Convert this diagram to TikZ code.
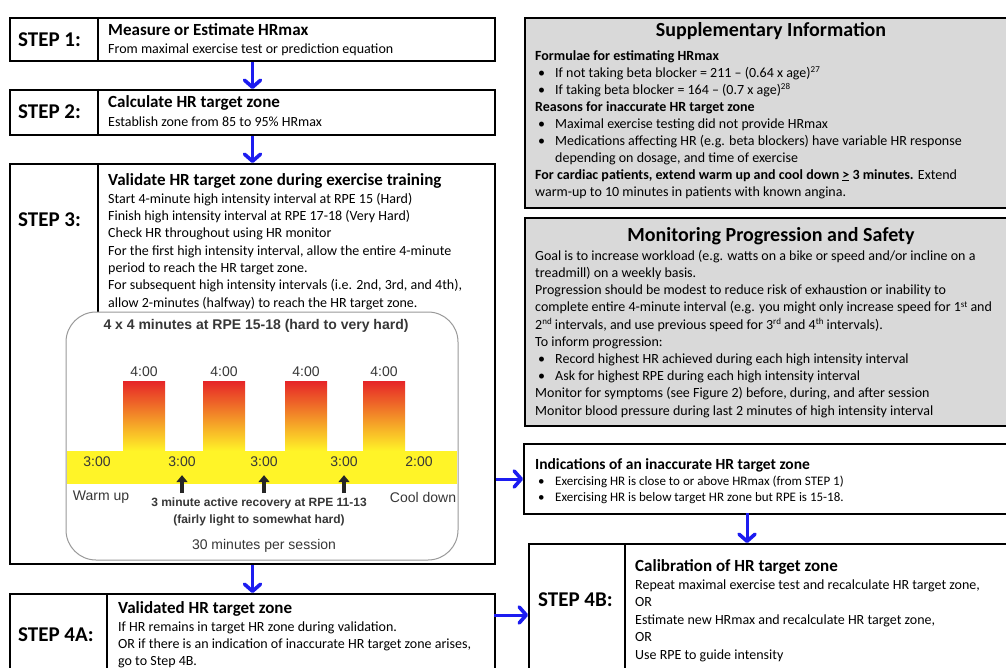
\documentclass[tikz,border=0pt]{standalone}
\usepackage{fontspec}
\setmainfont{Carlito}
\newfontfamily\arialfont{Liberation Sans}
\usetikzlibrary{arrows.meta,positioning,calc,shadows}

\definecolor{flowblue}{RGB}{28,28,240}
\definecolor{infogray}{RGB}{217,217,217}
\definecolor{zoneyellow}{RGB}{255,244,40}
\definecolor{peakred}{RGB}{230,36,40}
\definecolor{peakorange}{RGB}{240,140,30}
\definecolor{charttext}{RGB}{55,55,55}

\newcommand{\linetop}{\rule{0pt}{11pt}}
\newcommand{\infobullet}{\makebox[20pt][l]{\hspace{3pt}\textbullet}}
\newcommand{\infoindent}{\hspace*{20pt}}
\newcommand{\supnum}[1]{\raisebox{4.5pt}{\fontsize{9}{9}\selectfont #1}}

\tikzset{
  stepbox/.style={draw, line width=2pt, anchor=north west, inner sep=0pt, fill=white,
    drop shadow={opacity=0.25, shadow xshift=1.2pt, shadow yshift=-1.2pt}},
  infobox/.style={stepbox, fill=infogray},
  divider/.style={line width=2pt},
  flow/.style={draw=flowblue, line width=3pt, -{Straight Barb[length=7pt,width=16pt,line width=3.6pt,round]}},
  steplabel/.style={anchor=west, inner sep=0pt, font=\fontsize{21}{24}\selectfont\bfseries},
  boxtitle/.style={anchor=base west, inner sep=0pt, font=\fontsize{17}{20}\selectfont\bfseries},
  infotitle/.style={anchor=base, inner sep=0pt, font=\fontsize{20}{24}\selectfont\bfseries},
  boxbody/.style={anchor=north west, inner sep=0pt, align=left, font=\fontsize{14}{17.2}\selectfont},
  chartframe/.style={draw=black!40, line width=1pt, rounded corners=30pt, fill=white},
  chartlabel/.style={inner sep=0pt, text=charttext, font=\arialfont\fontsize{14}{16}\selectfont},
  charttitle/.style={chartlabel, font=\arialfont\fontsize{14}{16}\selectfont\bfseries},
  recarrow/.style={draw=black!85, line width=4pt, -{Triangle[length=7pt,width=11pt]}}
}

\begin{document}
\begin{tikzpicture}[x=1pt,y=-1pt]
\useasboundingbox (0,0) rectangle (1006,668);
\clip (0,0) rectangle (1006,668);

% left column: steps
\node[stepbox, minimum width=485pt, minimum height=43pt] (s1) at (9,17) {};
\node[stepbox, minimum width=485pt, minimum height=45pt] (s2) at (9,89) {};
\node[stepbox, minimum width=485pt, minimum height=400pt] (s3) at (9,163) {};
\node[stepbox, minimum width=485pt, minimum height=100pt] (s4a) at (9,593) {};
\draw[divider] (98,17) -- (98,60);
\draw[divider] (98,89) -- (98,134);
\draw[divider] (98,163) -- (98,312);
\draw[divider] (107,593) -- (107,693);

% right column: information
\node[infobox, minimum width=500pt, minimum height=190pt] (sup) at (524,17) {};
\node[infobox, minimum width=500pt, minimum height=208pt] (mon) at (524,217) {};
\node[stepbox, minimum width=500pt, minimum height=70pt] (ind) at (523,443) {};
\node[stepbox, minimum width=500pt, minimum height=150pt] (s4b) at (528,543) {};
\draw[divider] (625,543) -- (625,693);

% step labels
\node[steplabel] (l1) at (18,40) {STEP 1:};
\node[steplabel] (l2) at (18,112) {STEP 2:};
\node[steplabel] (l3) at (18,220) {STEP 3:};
\node[steplabel] (l4a) at (18,635) {STEP 4A:};
\node[steplabel] (l4b) at (538,600) {STEP 4B:};

% step texts
\node[boxtitle] (t1) at (108,36) {Measure or Estimate HRmax};
\node[boxbody] (b1) at (108,42) {\linetop From maximal exercise test or prediction equation};
\node[boxtitle] (t2) at (108,108) {Calculate HR target zone};
\node[boxbody] (b2) at (108,115) {\linetop Establish zone from 85 to 95\% HRmax};
\node[boxtitle] (t3) at (108,186) {Validate HR target zone during exercise training};
\node[boxbody, font=\fontsize{14}{17.3}\selectfont] (b3) at (108,192) {\linetop Start 4-minute high intensity interval at RPE 15 (Hard)\\
  Finish high intensity interval at RPE 17-18 (Very Hard)\\
  Check HR throughout using HR monitor\\
  For the first high intensity interval, allow the entire 4-minute\\
  period to reach the HR target zone.\\
  For subsequent high intensity intervals (i.e. 2nd, 3rd, and 4th),\\
  allow 2-minutes (halfway) to reach the HR target zone.};
\node[boxtitle] (t4a) at (118,613) {Validated HR target zone};
\node[boxbody, font=\fontsize{14}{17}\selectfont] (b4a) at (118,620) {\linetop If HR remains in target HR zone during validation.\\
  OR if there is an indication of inaccurate HR target zone arises,\\
  go to Step 4B.};
\node[boxtitle] (t4b) at (635,571) {Calibration of HR target zone};
\node[boxbody, font=\fontsize{14}{17.5}\selectfont] (b4b) at (635,578) {\linetop Repeat maximal exercise test and recalculate HR target zone,\\
  OR\\
  Estimate new HRmax and recalculate HR target zone,\\
  OR\\
  Use RPE to guide intensity};

% information texts
\node[infotitle] (tsup) at (771,37) {Supplementary Information};
\node[boxbody, font=\fontsize{14}{17}\selectfont] (bsup) at (535,49) {\linetop\textbf{Formulae for estimating HRmax}\\
  \infobullet If not taking beta blocker = 211 – (0.64 x age)\supnum{27}\\
  \infobullet If taking beta blocker = 164 – (0.7 x age)\supnum{28}\\
  \textbf{Reasons for inaccurate HR target zone}\\
  \infobullet Maximal exercise testing did not provide HRmax\\
  \infobullet Medications affecting HR (e.g. beta blockers) have variable HR response\\
  \infoindent depending on dosage, and time of exercise\\
  \textbf{For cardiac patients, extend warm up and cool down \underline{>} 3 minutes.} Extend\\
  warm-up to 10 minutes in patients with known angina.};
\node[infotitle] (tmon) at (771,242) {Monitoring Progression and Safety};
\node[boxbody, font=\fontsize{14}{17.2}\selectfont] (bmon) at (535,249) {\linetop Goal is to increase workload (e.g. watts on a bike or speed and/or incline on a\\
  treadmill) on a weekly basis.\\
  Progression should be modest to reduce risk of exhaustion or inability to\\
  complete entire 4-minute interval (e.g. you might only increase speed for 1\supnum{st} and\\
  2\supnum{nd} intervals, and use previous speed for 3\supnum{rd} and 4\supnum{th} intervals).\\
  To inform progression:\\
  \infobullet Record highest HR achieved during each high intensity interval\\
  \infobullet Ask for highest RPE during each high intensity interval\\
  Monitor for symptoms (see Figure 2) before, during, and after session\\
  Monitor blood pressure during last 2 minutes of high intensity interval};
\node[boxtitle, font=\fontsize{15.5}{18}\selectfont\bfseries] (tind) at (535,469) {Indications of an inaccurate HR target zone};
\node[boxbody, font=\fontsize{13}{16}\selectfont] (bind) at (535,474) {\linetop\infobullet Exercising HR is close to or above HRmax (from STEP 1)\\
  \infobullet Exercising HR is below target HR zone but RPE is 15-18.};

% interval chart
\draw[chartframe] (66,312) rectangle (458,560);
\node[charttitle] (ctitle) at (256,326) {4 x 4 minutes at RPE 15-18 (hard to very hard)};
\fill[zoneyellow] (67,451) rectangle (457,484);
\foreach \x [count=\i] in {123,203,285,363} {
  \shade[top color=peakred, middle color=peakorange, bottom color=zoneyellow] (\x,381) rectangle ++(42,70);
  \node[chartlabel] (peak\i) at (\x+21,372) {4:00};
}
\node[chartlabel] (warm) at (97,462) {3:00};
\node[chartlabel] (rec1) at (182,462) {3:00};
\node[chartlabel] (rec2) at (264,462) {3:00};
\node[chartlabel] (rec3) at (344,462) {3:00};
\node[chartlabel] (cool) at (419,462) {2:00};
\foreach \i in {1,2,3}
  \draw[recarrow] ([yshift=-26pt]rec\i.south) -- ([yshift=-8pt]rec\i.south);
\node[chartlabel] (warmtxt) at (101,497) {Warm up};
\node[chartlabel] (cooltxt) at (423,497) {Cool down};
\node[chartlabel, align=center, font=\arialfont\fontsize{12}{17}\selectfont\bfseries] (rectxt) at (259,512) {3 minute active recovery at RPE 11-13\\(fairly light to somewhat hard)};
\node[chartlabel] (session) at (264,546) {30 minutes per session};

% connectors
\draw[flow] (s1.south) -- (s2.north);
\draw[flow] (s2.south) -- (s3.north);
\draw[flow] (s3.south) -- (s4a.north);
\draw[flow] (s3.east |- ind.west) -- (ind.west);
\coordinate (toB) at (494,615);
\draw[flow] (toB) -- (toB -| s4b.west);
\coordinate (indB) at (747,513);
\draw[flow] (indB) -- (indB |- s4b.north);

\end{tikzpicture}
\end{document}
